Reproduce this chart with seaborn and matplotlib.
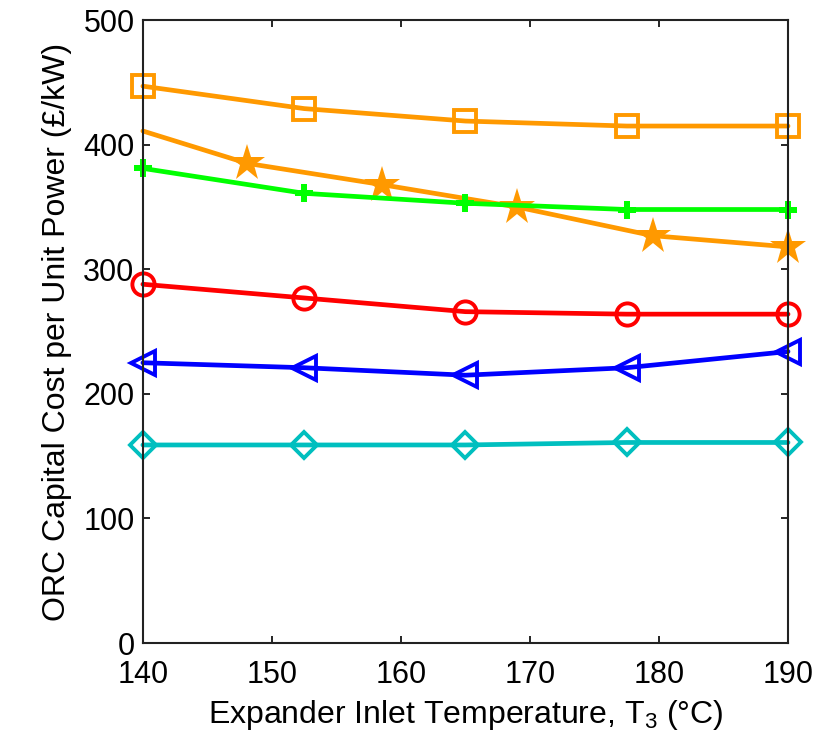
import numpy as np
import matplotlib
matplotlib.use('Agg')
import matplotlib.pyplot as plt
import seaborn as sns

# data
temps = [140, 152.5, 165, 177.5, 190]
cost_square = [447, 429, 419, 415, 415]
cost_plus = [381, 361, 353, 348, 348]
cost_circle = [288, 277, 266, 264, 264]
cost_triangle = [225, 221, 215, 221, 234]
cost_diamond = [159, 159, 159, 161, 161]

# star series has its own x points (no marker on the first one)
temps_star = [140, 148.1, 158.5, 169, 179.5, 190]
cost_star = [411, 385, 368, 350, 327, 318]

sns.set_style('ticks')
plt.rcParams['font.family'] = ['Liberation Sans', 'DejaVu Sans']
plt.rcParams['mathtext.default'] = 'regular'
plt.rcParams['text.color'] = 'black'
plt.rcParams['axes.labelcolor'] = 'black'

fig = plt.figure(figsize=(8.26, 7.46), dpi=100)
ax = fig.add_axes([0.173, 0.138, 0.781, 0.835])

lw = 3.4
sns.lineplot(x=temps, y=cost_square, color='#FF9900', marker='s', markersize=16,
             markerfacecolor='none', markeredgecolor='#FF9900', markeredgewidth=2.8,
             linewidth=lw, clip_on=False, ax=ax)
sns.lineplot(x=temps_star, y=cost_star, color='#FF9900', marker='*', markersize=28,
             markevery=[1, 2, 3, 4, 5], markeredgewidth=0,
             linewidth=lw, clip_on=False, sort=False, ax=ax)
sns.lineplot(x=temps, y=cost_plus, color='#00FF00', marker='P', markersize=13,
             markeredgewidth=0, linewidth=lw, clip_on=False, ax=ax)
sns.lineplot(x=temps, y=cost_circle, color='#FF0000', marker='o', markersize=16,
             markerfacecolor='none', markeredgecolor='#FF0000', markeredgewidth=2.8,
             linewidth=lw, clip_on=False, ax=ax)
sns.lineplot(x=temps, y=cost_triangle, color='#0000FF', marker='<', markersize=17,
             markerfacecolor='none', markeredgecolor='#0000FF', markeredgewidth=2.8,
             linewidth=lw, clip_on=False, ax=ax)
sns.lineplot(x=temps, y=cost_diamond, color='#00BFBF', marker='D', markersize=13,
             markerfacecolor='none', markeredgecolor='#00BFBF', markeredgewidth=2.8,
             linewidth=lw, clip_on=False, ax=ax)

ax.set_xlim(140, 190)
ax.set_ylim(0, 500)
ax.set_xticks([140, 150, 160, 170, 180, 190])
ax.set_yticks([0, 100, 200, 300, 400, 500])
ax.tick_params(direction='in', top=True, right=True, length=5, width=1.2,
               labelsize=22, colors='black')
ax.tick_params(axis='x', pad=12)
ax.tick_params(axis='y', pad=6)
for s in ax.spines.values():
    s.set_visible(True)
    s.set_linewidth(1.5)
    s.set_color('#222222')

ax.set_xlabel('Expander Inlet Temperature, T$_3$ (°C)', fontsize=23, labelpad=6)
ax.set_ylabel('ORC Capital Cost per Unit Power (£/kW)', fontsize=23, labelpad=8)

fig.savefig('out.png', dpi=100)
